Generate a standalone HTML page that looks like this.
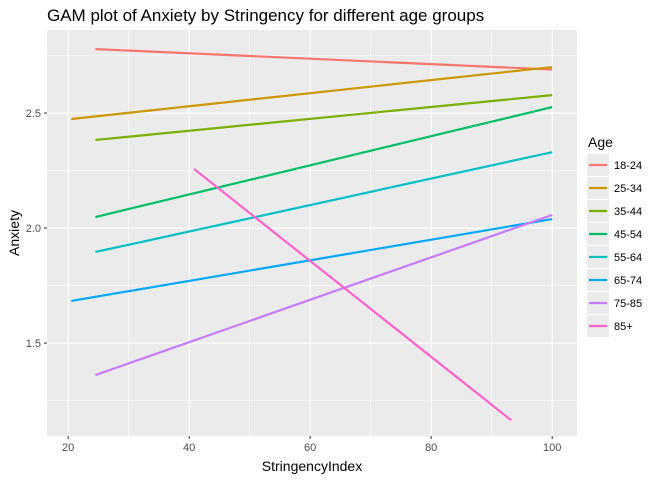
<!DOCTYPE html>
<html><head><meta charset="utf-8"><style>
body{margin:0;background:#fff;font-family:"Liberation Sans",sans-serif;}
</style></head><body>
<svg id="c" width="672" height="480" font-family="Liberation Sans, sans-serif"></svg>
<script>
const groups=["18-24","25-34","35-44","45-54","55-64","65-74","75-85","85+"];
const colors=["#F8766D","#CD9600","#7CAE00","#00BE67","#00BFC4","#00A9FF","#C77CFF","#FF61CC"];
const xStart=[24.5,20.5,24.5,24.5,24.5,20.5,24.5,40.8];
const xEnd=[100,100,100,100,100,100,100,93.2];
const yStart=[2.778,2.474,2.383,2.048,1.896,1.683,1.361,2.257];
const yEnd=[2.689,2.70,2.578,2.526,2.330,2.039,2.057,1.165];
const xTicks=[20,40,60,80,100];
const yTicks=[1.5,2.0,2.5];
const L=47,R=577,T=30,B=436;
const xmin=16.5,xmax=104.1,ymin=1.096,ymax=2.861;
const X=v=>L+(v-xmin)/(xmax-xmin)*(R-L);
const Y=v=>B-(v-ymin)/(ymax-ymin)*(B-T);
const s=document.getElementById('c');const NS="http://www.w3.org/2000/svg";
function el(t,a,p){const e=document.createElementNS(NS,t);for(const k in a)e.setAttribute(k,a[k]);(p||s).appendChild(e);return e;}
let e=el('rect',{x:L,y:T,width:R-L,height:B-T,fill:'#EBEBEB'});


for(let i=0;i<xTicks.length-1;i++){const m=(xTicks[i]+xTicks[i+1])/2;el('line',{x1:X(m),x2:X(m),y1:T,y2:B,stroke:'#fff','stroke-width':0.5});}
for(let i=0;i<yTicks.length-1;i++){const m=(yTicks[i]+yTicks[i+1])/2;el('line',{x1:L,x2:R,y1:Y(m),y2:Y(m),stroke:'#fff','stroke-width':0.5});}
el('line',{x1:L,x2:R,y1:Y(yTicks[0]-0.25),y2:Y(yTicks[0]-0.25),stroke:'#fff','stroke-width':0.5});
el('line',{x1:L,x2:R,y1:Y(yTicks[2]+0.25),y2:Y(yTicks[2]+0.25),stroke:'#fff','stroke-width':0.5});
xTicks.forEach(v=>{el('line',{x1:X(v),x2:X(v),y1:T,y2:B,stroke:'#fff','stroke-width':1.1});el('line',{x1:X(v),x2:X(v),y1:B,y2:B+3,stroke:'#333'});
const t=el('text',{x:X(v),y:B+15,'text-anchor':'middle','font-size':11,fill:'#4D4D4D'});t.textContent=v;

});
yTicks.forEach(v=>{el('line',{x1:L,x2:R,y1:Y(v),y2:Y(v),stroke:'#fff','stroke-width':1.1});el('line',{x1:L-3,x2:L,y1:Y(v),y2:Y(v),stroke:'#333'});
const t=el('text',{x:L-6,y:Y(v)+4,'text-anchor':'end','font-size':11,fill:'#4D4D4D'});t.textContent=v.toFixed(1);

});
groups.forEach((g,i)=>{const l=el('line',{x1:X(xStart[i]),y1:Y(yStart[i]),x2:X(xEnd[i]),y2:Y(yEnd[i]),stroke:colors[i],'stroke-width':2.2});


const ly=165+i*23;
const k=el('rect',{x:587,y:ly-11,width:22,height:22,fill:'#EBEBEB'});


el('line',{x1:589,x2:607,y1:ly,y2:ly,stroke:colors[i],'stroke-width':2.2});
const t=el('text',{x:614,y:ly+4,'font-size':11,fill:'#000'});t.textContent=g;

});
let t=el('text',{x:588,y:147,'font-size':14});t.textContent='Age';

t=el('text',{x:(L+R)/2,y:471,'text-anchor':'middle','font-size':14});t.textContent='StringencyIndex';

t=el('text',{x:19,y:(T+B)/2,'text-anchor':'middle','font-size':14,transform:`rotate(-90 19 ${(T+B)/2})`});t.textContent='Anxiety';

t=el('text',{x:47,y:21,'font-size':17});t.textContent='GAM plot of Anxiety by Stringency for different age groups';

</script>
</body></html>
